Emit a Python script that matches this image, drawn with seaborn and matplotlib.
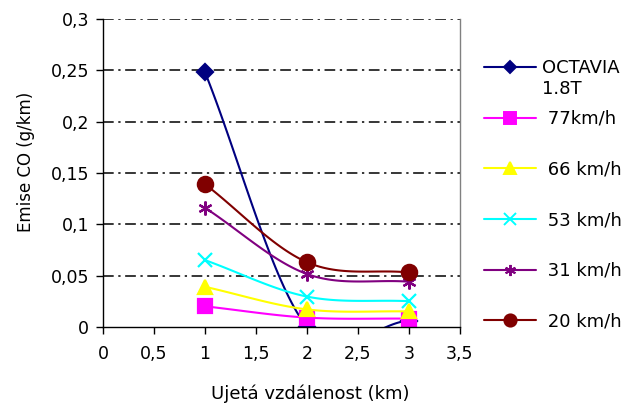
import numpy as np
import pandas as pd
import matplotlib.pyplot as plt
import seaborn as sns
from matplotlib.lines import Line2D
from matplotlib.ticker import FuncFormatter

# data
distance = [1, 2, 3]
octavia = [0.248, 0.0, 0.006]
v77 = [0.020, 0.009, 0.008]
v66 = [0.039, 0.017, 0.015]
v53 = [0.065, 0.0295, 0.025]
v31 = [0.116, 0.0515, 0.044]
v20 = [0.139, 0.063, 0.053]

labels = ['OCTAVIA', ' 77km/h', ' 66 km/h', ' 53 km/h', ' 31 km/h', ' 20 km/h']
series = [octavia, v77, v66, v53, v31, v20]
colors = ['#000080', '#FF00FF', '#FFFF00', '#00FFFF', '#800080', '#800000']
markers = ['D', 's', '^', 'x', (6, 2, 0), 'o']
msizes = [8, 10, 10, 10, 10, 11]


def smooth(x, y, n=40):
    # excel-like smoothed line (catmull-rom through the points)
    x = np.asarray(x, float)
    y = np.asarray(y, float)
    px = np.concatenate([[2 * x[0] - x[1]], x, [2 * x[-1] - x[-2]]])
    py = np.concatenate([[2 * y[0] - y[1]], y, [2 * y[-1] - y[-2]]])
    xs, ys = [], []
    t = np.linspace(0, 1, n)
    for i in range(1, len(px) - 2):
        for p, out in ((px, xs), (py, ys)):
            p0, p1, p2, p3 = p[i - 1], p[i], p[i + 1], p[i + 2]
            out.extend(0.5 * (2 * p1 + (-p0 + p2) * t + (2 * p0 - 5 * p1 + 4 * p2 - p3) * t ** 2
                              + (-p0 + 3 * p1 - 3 * p2 + p3) * t ** 3))
    return np.array(xs), np.array(ys)


sns.set_style('white')
plt.rcParams['font.family'] = ['DejaVu Sans']
for k in ['text.color', 'axes.labelcolor', 'xtick.color', 'ytick.color']:
    plt.rcParams[k] = 'black'

fig = plt.figure(figsize=(6.29, 4.05), dpi=100)
ax = fig.add_axes([0.164, 0.193, 0.567, 0.760])

handles = []
for vals, lab, c, m, ms in zip(series, labels, colors, markers, msizes):
    sx, sy = smooth(distance, vals)
    sns.lineplot(x=sx, y=sy, color=c, lw=1.5, sort=False, ax=ax)
    ax.plot(distance, vals, linestyle='none', marker=m, ms=ms, color=c, mec=c, mew=1.6)
    handles.append(Line2D([], [], color=c, lw=1.5, marker=m, ms=ms * 0.8, mec=c, mew=1.4))

ax.set_xlim(0, 3.5)
ax.set_ylim(0, 0.3)
ax.set_xticks(np.arange(0, 3.51, 0.5))
ax.set_yticks(np.arange(0, 0.301, 0.05))
fmt = FuncFormatter(lambda v, p: ('%g' % round(v, 3)).replace('.', ','))
ax.xaxis.set_major_formatter(fmt)
ax.yaxis.set_major_formatter(fmt)

for yv in np.arange(0.05, 0.301, 0.05):
    ax.axhline(yv, color='black', lw=1.1, ls=(0, (7, 3, 1.5, 3)), zorder=0)

ax.spines['top'].set_visible(False)
ax.spines['right'].set_color('#808080')
ax.spines['left'].set_color('black')
ax.spines['bottom'].set_color('black')
for s in ax.spines.values():
    s.set_linewidth(1.0)
ax.tick_params(axis='both', direction='out', length=5, width=1, color='black',
               labelsize=12.5, bottom=True, left=True)
ax.tick_params(axis='x', pad=8)
ax.tick_params(axis='y', pad=5)

ax.set_xlabel('Ujetá vzdálenost (km)', fontsize=13)
ax.set_ylabel('Emise CO (g/km)', fontsize=12)
ax.xaxis.set_label_coords(0.58, -0.188)
ax.yaxis.set_label_coords(-0.19, 0.537)

leg = fig.legend(handles, labels, loc='upper left', bbox_to_anchor=(0.755, 0.876),
                 frameon=False, fontsize=13, handlelength=2.9, handletextpad=0.3,
                 labelspacing=1.81, borderpad=0)

# second line of the first legend label, under "OCTAVIA"
fig.canvas.draw()
bb = leg.get_texts()[0].get_window_extent()
fig.text(bb.x0 / fig.bbox.width, (bb.y0 - 21) / fig.bbox.height, '1.8T',
         fontsize=13, ha='left', va='bottom')

fig.savefig('out.png', dpi=100)
